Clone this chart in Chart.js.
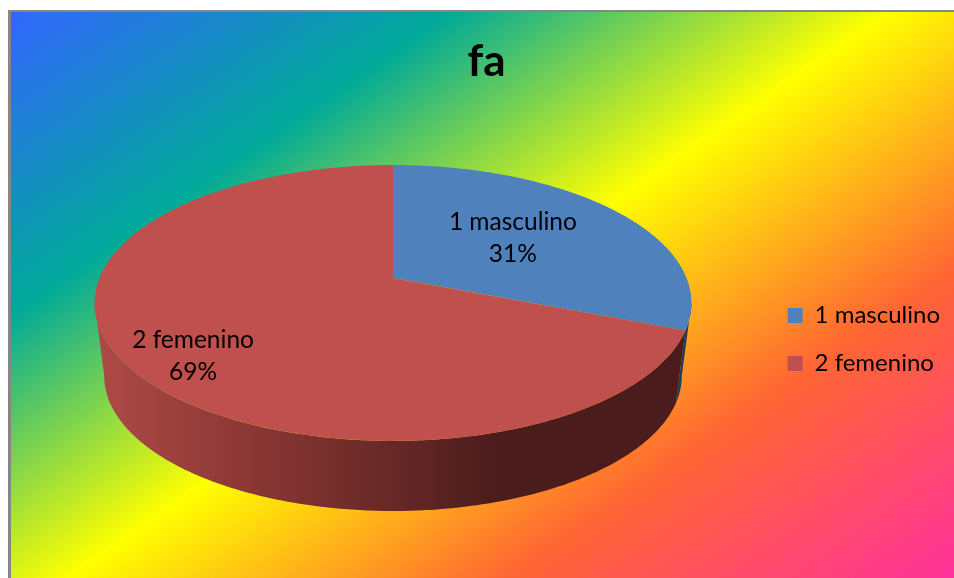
<!DOCTYPE html>
<html><head><meta charset="utf-8">
<style>html,body{margin:0;padding:0;background:#fff}canvas{display:block}</style>
<script src="https://cdn.jsdelivr.net/npm/chart.js@4"></script>
</head><body><canvas id="c" width="954" height="578"></canvas>
<script>
const categories = ['1 masculino', '2 femenino'];
const shares = [31, 69];
const sliceColors = ['#4F81BD', '#C0504D'];
const chartTitle = 'fa';

// Perspective of the pie's top and bottom discs
const CX = 393;
const PERSP = -0.181;
const TOP = {d: 293.5, a: 83.1, b: 278};
const BOT = {d: 284, a: 66.9, b: 351.6};
function project(disc, ang, r) {
  const u = Math.cos(ang) * r, v = Math.sin(ang) * r, w = 1 + PERSP * v;
  return [CX + disc.d * u / w, (disc.a * v + disc.b) / w];
}
// Only the silhouette-to-silhouette front of the rim is visible
function wall(ctx, s, e, fill) {
  const lo = Math.asin(-PERSP), hi = Math.PI - lo;
  s = Math.max(s, lo); e = Math.min(e, hi);
  if (e <= s) return;
  const n = 240;
  ctx.beginPath();
  for (let i = 0; i <= n; i++) { const p = project(TOP, s + (e - s) * i / n, 1); i ? ctx.lineTo(p[0], p[1]) : ctx.moveTo(p[0], p[1]); }
  for (let i = n; i >= 0; i--) { const p = project(BOT, s + (e - s) * i / n, 1); ctx.lineTo(p[0], p[1]); }
  ctx.closePath(); ctx.fillStyle = fill; ctx.fill();
}
function face(ctx, s, e, fill) {
  const n = 240;
  ctx.beginPath();
  const c = project(TOP, 0, 0); ctx.moveTo(c[0], c[1]);
  for (let i = 0; i <= n; i++) { const p = project(TOP, s + (e - s) * i / n, 1); ctx.lineTo(p[0], p[1]); }
  ctx.closePath(); ctx.fillStyle = fill; ctx.fill();
}
const backdrop = {
  id: 'backdrop',
  beforeDraw(chart) {
    const ctx = chart.ctx;
    ctx.save();
    ctx.fillStyle = '#868686'; ctx.fillRect(8, 10, 946, 568);
    const g = ctx.createLinearGradient(11, 12, 576, 832);
    g.addColorStop(0, '#3366FF'); g.addColorStop(0.25, '#00A999'); g.addColorStop(0.5, '#FFFF00');
    g.addColorStop(0.75, '#FF6633'); g.addColorStop(1, '#FF3399');
    ctx.fillStyle = g; ctx.fillRect(11, 12, 943, 566);
    ctx.restore();
  }
};
const pie3d = {
  id: 'pie3d',
  beforeDatasetsDraw(chart) {
    const ctx = chart.ctx, arcs = chart.getDatasetMeta(0).data;
    ctx.save();
    const red = ctx.createLinearGradient(95, 0, 500, 0);
    red.addColorStop(0, '#AE4A47'); red.addColorStop(0.45, '#843432');
    red.addColorStop(0.75, '#652826'); red.addColorStop(1, '#4A1C1C');
    const wallFills = ['#1F3A5A', red];
    arcs.forEach((a, i) => wall(ctx, a.startAngle, a.endAngle, wallFills[i]));
    arcs.forEach((a, i) => face(ctx, a.startAngle, a.endAngle, sliceColors[i]));
    // labels
    const radii = [0.52, 0.76], shift = [-3, 16];
    ctx.fillStyle = '#000'; ctx.font = '24.5px Lato'; ctx.textAlign = 'center'; ctx.textBaseline = 'middle';
    arcs.forEach((a, i) => {
      const p = project(TOP, (a.startAngle + a.endAngle) / 2, radii[i]);
      ctx.fillText(categories[i], p[0], p[1] + shift[i] - 16);
      ctx.fillText(shares[i] + '%', p[0], p[1] + shift[i] + 16);
    });
    ctx.restore();
    return false;
  }
};
new Chart(document.getElementById('c'), {
  type: 'pie',
  data: { labels: categories, datasets: [{ data: shares, backgroundColor: sliceColors, borderWidth: 0 }] },
  plugins: [backdrop, pie3d],
  options: {
    responsive: false, animation: false,
    layout: { padding: { left: 23, right: 4, top: 10, bottom: 0 } },
    plugins: {
      tooltip: { enabled: false },
      title: { display: true, text: chartTitle, color: '#000', font: { family: 'Lato', size: 44, weight: 'bold' }, padding: { top: 25, bottom: 13 } },
      legend: { position: 'right', fullSize: false, labels: { color: '#000', boxWidth: 15, boxHeight: 15, padding: 24, font: { family: 'Lato', size: 24 } } }
    }
  }
});
</script></body></html>
